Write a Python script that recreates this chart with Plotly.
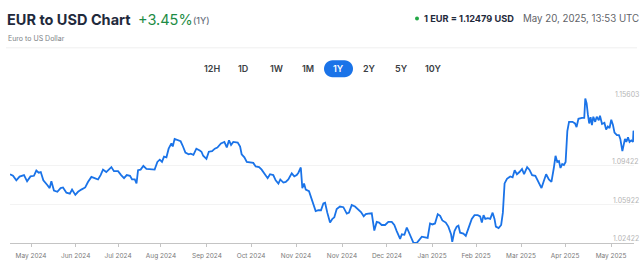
import plotly.graph_objects as go
import pandas as pd

# ---------------- data ----------------
start_date = "2024-05-20"
end_date = "2025-05-20"

day_offsets = [
    0, 1.75, 3.7, 5.6, 8.2, 10, 12, 14, 15.4, 16.8, 18, 19.5, 21.8, 23.2, 24.2, 25.7, 27.7, 29.6, 31, 33,
    35, 36.3, 38.2, 39.8, 41.7, 44, 45.6, 47.6, 49.5, 51.5, 53, 54.4, 56.3, 57.7, 59.3, 60.8, 63.2, 65, 66.7, 68.3,
    70.2, 71.4, 73, 74, 74.9, 76.4, 78, 79.8, 82.3, 84.6, 86.2, 87.6, 88.9, 90.1, 91.5, 92.8, 94.4, 95.2, 96.3, 98.3,
    99.8, 101.2, 102.6, 104.5, 105.7, 107.3, 109, 111, 112, 113, 114.9, 116.3, 118.2, 119.8, 121.3, 123.4, 125.4, 126.8, 128.1, 129.3,
    130.6, 133.2, 134.6, 135.5, 137.1, 138.5, 141, 142.3, 143.7, 145.7, 147.2, 149.2, 150.7, 152.1, 154, 155.4, 157, 158.1, 159.9, 161.3,
    162.8, 164.8, 166.3, 167.7, 168.7, 170.1, 171, 172, 173, 174.9, 176.9, 178.8, 180.4, 181.9, 183.3, 184.3, 185.6, 187.2, 188.6, 189.7,
    191.1, 193, 195, 197, 198.3, 199.9, 201.8, 203.8, 205.3, 206.9, 208.1, 209.6, 211.6, 213.1, 214.5, 215.9, 217.4, 219.4, 221.3, 223.3,
    224.8, 226.2, 227.2, 228.2, 229.2, 230.7, 232.1, 233.4, 234.6, 236, 238, 239.3, 240.9, 242.8, 244.3, 245.7, 247.1, 248.6, 250.2, 251.6,
    252.9, 254.9, 256.4, 258, 258.7, 260, 261.3, 262.3, 263.3, 265.2, 266.6, 268.2, 270.1, 271.7, 273.6, 275, 276, 277, 278, 279.5,
    280.9, 282.3, 283.4, 284.2, 285.8, 287.3, 288.3, 289.3, 290.7, 292.6, 294, 295.2, 296.5, 298, 299.5, 300.7, 302.5, 303.8, 305.4, 307.3,
    308.9, 310.3, 310.9, 312.2, 313.6, 315.2, 316.7, 318.1, 319.1, 320.1, 321.1, 322, 323, 324, 325, 326, 327, 329, 330.5, 331.4,
    332.5, 334.5, 335.9, 336.5, 337.3, 338, 338.8, 339.6, 340.4, 341.2, 342.3, 343.2, 344.4, 345.1, 346.3, 347.7, 348.7, 349.7, 350.7, 351.7,
    352.7, 353.6, 355, 356.2, 357, 358.2, 358.9, 359.7, 360.5, 361.5, 362.4, 363.4, 364.4, 364.7, 365,
]

eur_usd = [
    1.0866, 1.0852, 1.0810, 1.0844, 1.0858, 1.0801, 1.0846, 1.0852, 1.0900, 1.0880, 1.0886, 1.0810, 1.0767, 1.0739, 1.0801, 1.0717, 1.0705, 1.0739, 1.0745, 1.0697,
    1.0688, 1.0725, 1.0677, 1.0705, 1.0725, 1.0745, 1.0795, 1.0841, 1.0830, 1.0818, 1.0858, 1.0908, 1.0886, 1.0903, 1.0931, 1.0894, 1.0894, 1.0858, 1.0830, 1.0858,
    1.0852, 1.0818, 1.0818, 1.0781, 1.0903, 1.0908, 1.0942, 1.0914, 1.0914, 1.0908, 1.0979, 1.0999, 1.0979, 1.1027, 1.1021, 1.1100, 1.1148, 1.1120, 1.1190, 1.1176,
    1.1168, 1.1120, 1.1064, 1.1049, 1.1055, 1.1044, 1.1100, 1.1083, 1.1072, 1.1035, 1.1007, 1.1072, 1.1078, 1.1100, 1.1111, 1.1148, 1.1162, 1.1111, 1.1176, 1.1134,
    1.1162, 1.1156, 1.1120, 1.1049, 1.1021, 1.0979, 1.0970, 1.0970, 1.0937, 1.0931, 1.0908, 1.0866, 1.0830, 1.0866, 1.0858, 1.0810, 1.0781, 1.0818, 1.0790, 1.0796,
    1.0818, 1.0874, 1.0846, 1.0858, 1.0880, 1.0928, 1.0739, 1.0781, 1.0725, 1.0711, 1.0626, 1.0528, 1.0536, 1.0536, 1.0598, 1.0604, 1.0514, 1.0423, 1.0457, 1.0471,
    1.0547, 1.0570, 1.0564, 1.0505, 1.0514, 1.0584, 1.0570, 1.0542, 1.0519, 1.0480, 1.0500, 1.0505, 1.0508, 1.0350, 1.0429, 1.0423, 1.0401, 1.0401, 1.0429, 1.0429,
    1.0401, 1.0345, 1.0316, 1.0274, 1.0316, 1.0311, 1.0378, 1.0330, 1.0294, 1.0237, 1.0237, 1.0260, 1.0294, 1.0288, 1.0282, 1.0415, 1.0406, 1.0415, 1.0500, 1.0485,
    1.0443, 1.0423, 1.0386, 1.0316, 1.0246, 1.0345, 1.0386, 1.0395, 1.0330, 1.0322, 1.0302, 1.0372, 1.0457, 1.0491, 1.0491, 1.0480, 1.0423, 1.0491, 1.0457, 1.0463,
    1.0457, 1.0514, 1.0457, 1.0386, 1.0372, 1.0401, 1.0514, 1.0782, 1.0824, 1.0846, 1.0838, 1.0903, 1.0866, 1.0886, 1.0914, 1.0866, 1.0931, 1.0908, 1.0858, 1.0852,
    1.0796, 1.0762, 1.0739, 1.0801, 1.0866, 1.0818, 1.0796, 1.0923, 1.1035, 1.0979, 1.0987, 1.0923, 1.0959, 1.0951, 1.0979, 1.1261, 1.1346, 1.1346, 1.1331, 1.1298,
    1.1374, 1.1382, 1.1382, 1.1560, 1.1514, 1.1416, 1.1331, 1.1388, 1.1317, 1.1393, 1.1346, 1.1393, 1.1360, 1.1402, 1.1326, 1.1337, 1.1275, 1.1303, 1.1289, 1.1365,
    1.1317, 1.1247, 1.1224, 1.1224, 1.1190, 1.1078, 1.1140, 1.1190, 1.1162, 1.1204, 1.1162, 1.1176, 1.1162, 1.1265, 1.1240,
]

x_tick_days = [12.3, 38.4, 63.2, 88.3, 115.2, 141, 167.3, 194.2, 220.5, 246.9, 272.6, 298.9, 324.7, 351.6]
x_tick_labels = ["May 2024", "Jun 2024", "Jul 2024", "Aug 2024", "Sep 2024", "Oct 2024", "Nov 2024",
                 "Nov 2024", "Dec 2024", "Jan 2025", "Feb 2025", "Mar 2025", "Apr 2025", "May 2025"]

y_tick_vals = [1.02422, 1.05922, 1.09422, 1.15603]
y_tick_labels = ["1.02422", "1.05922", "1.09422", "1.15603"]

range_buttons = ["12H", "1D", "1W", "1M", "1Y", "2Y", "5Y", "10Y"]
active_button = "1Y"

title_text = "EUR to USD Chart"
change_text = "+3.45%"
period_text = "(1Y)"
subtitle_text = "Euro to US Dollar"
rate_text = "1 EUR = 1.12479 USD"
time_text = "May 20, 2025, 13:53 UTC"

# ---------------- build ----------------
t0 = pd.Timestamp(start_date)
dates = t0 + pd.to_timedelta(day_offsets, unit="D")
tick_dates = t0 + pd.to_timedelta(x_tick_days, unit="D")

FIG_W, FIG_H = 642, 268
ML, MR, MT, MB = 10, 8, 98, 14
PW, PH = FIG_W - ML - MR, FIG_H - MT - MB


def px(xp):
    return (xp - ML) / PW


def py(yp):
    return 1 - (yp - MT) / PH


FONT = "Inter"
BLUE = "#1a73e8"

fig = go.Figure()
fig.add_trace(go.Scatter(
    x=dates, y=eur_usd, mode="lines",
    line=dict(color=BLUE, width=1.8),
    hoverinfo="skip", showlegend=False,
))

annotations = []


def txt(text, xp, yp, size, color, weight=400, xanchor="left"):
    annotations.append(dict(
        text=text, x=px(xp), y=py(yp), xref="paper", yref="paper",
        xanchor=xanchor, yanchor="middle", showarrow=False,
        font=dict(family=FONT, size=size, color=color, weight=weight),
    ))


txt(title_text, 5, 14, 14.5, "#1f2a3c", 700)
txt(change_text, 136, 14, 14.5, "#1d8c45", 400)
txt(period_text, 191, 15, 9, "#6b7280", 500)
txt(subtitle_text, 6, 34, 7, "#7b7f86", 400)
txt(rate_text, 422, 12.5, 9.2, "#1f2a3c", 700)
txt(time_text, 521, 12.5, 9.7, "#5f6368", 400)

button_centers = [212, 243.5, 276, 308, 338.5, 369, 401, 433]
for lbl, cx in zip(range_buttons, button_centers):
    is_active = lbl == active_button
    txt(lbl, cx, 66.5, 9, "#ffffff" if is_active else "#3c4043", 600, xanchor="center")

# y labels sitting just above their gridlines, right side
for v, lab in zip(y_tick_vals, y_tick_labels):
    annotations.append(dict(
        text=lab, x=1, xref="paper", y=v, yref="y", xanchor="right", yanchor="middle",
        xshift=7, yshift=4, showarrow=False,
        font=dict(family=FONT, size=7, color="#b5b5b5"),
    ))

shapes = [
    # separator under subtitle
    dict(type="line", xref="paper", yref="paper", x0=px(6), x1=px(637), y0=py(44), y1=py(44),
         line=dict(color="#efefef", width=1)),
    # green live dot
    dict(type="circle", xref="paper", yref="paper", xsizemode="pixel", ysizemode="pixel",
         xanchor=px(417), yanchor=py(12.5), x0=-2, x1=2, y0=-2, y1=2,
         fillcolor="#22a845", line=dict(width=0)),
    # active pill
    dict(type="path", xref="paper", yref="paper", xsizemode="pixel", ysizemode="pixel",
         xanchor=px(338.5), yanchor=py(66.5),
         path="M -6,-8.5 L 6,-8.5 C 10.7,-8.5 14.5,-4.7 14.5,0 C 14.5,4.7 10.7,8.5 6,8.5 "
              "L -6,8.5 C -10.7,8.5 -14.5,4.7 -14.5,0 C -14.5,-4.7 -10.7,-8.5 -6,-8.5 Z",
         fillcolor=BLUE, line=dict(width=0), layer="below"),
]

fig.update_layout(
    width=FIG_W, height=FIG_H,
    margin=dict(l=ML, r=MR, t=MT, b=MB, pad=0),
    paper_bgcolor="white", plot_bgcolor="white",
    font=dict(family=FONT),
    showlegend=False,
    annotations=annotations,
    shapes=shapes,
    xaxis=dict(
        type="date", range=[start_date, end_date],
        tickmode="array", tickvals=tick_dates, ticktext=x_tick_labels,
        showgrid=False, zeroline=False,
        showline=True, linecolor="#c4c4c4", linewidth=1,
        ticks="outside", ticklen=3, tickcolor="#c4c4c4",
        ticklabelstandoff=3,
        tickfont=dict(family=FONT, size=6.5, color="#7a7a7a"),
        fixedrange=True,
    ),
    yaxis=dict(
        range=[1.0236, 1.15603 + 0.0004],
        tickmode="array", tickvals=y_tick_vals,
        showticklabels=False, showgrid=True, gridcolor="#f3f3f3", gridwidth=1,
        zeroline=False, showline=False, fixedrange=True,
    ),
)

fig.write_html("out.html", config={"displayModeBar": False})
